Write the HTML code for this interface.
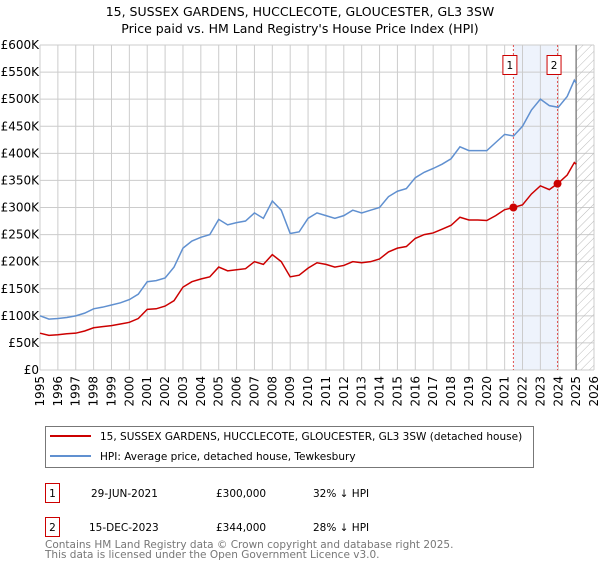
<!DOCTYPE html>
<html><head><meta charset="utf-8"><style>
body{margin:0;background:#fff;font-family:"Liberation Sans","DejaVu Sans",sans-serif}
</style></head><body>
<svg width="600" height="560" xmlns="http://www.w3.org/2000/svg" font-family="DejaVu Sans, Liberation Sans, sans-serif">
<text x="300" y="16" text-anchor="middle" font-size="12.5">15, SUSSEX GARDENS, HUCCLECOTE, GLOUCESTER, GL3 3SW</text>
<text x="300" y="33" text-anchor="middle" font-size="12.5">Price paid vs. HM Land Registry's House Price Index (HPI)</text>
<defs><pattern id="hatch" width="6" height="6" patternUnits="userSpaceOnUse" patternTransform="rotate(45)"><line x1="0" y1="0" x2="0" y2="6" stroke="#bbb" stroke-width="1"/></pattern></defs>
<g id="grid"></g>
<g id="marks"></g>
<g id="axes" font-size="12"></g>
<g>
<rect x="45.5" y="426.5" width="488" height="41" fill="#fff" stroke="#777"/>
<line x1="50" y1="436" x2="91" y2="436" stroke="#cc0000" stroke-width="2"/>
<text x="100" y="440" font-size="10.5">15, SUSSEX GARDENS, HUCCLECOTE, GLOUCESTER, GL3 3SW (detached house)</text>
<line x1="50" y1="456" x2="91" y2="456" stroke="#6090d0" stroke-width="2"/>
<text x="100" y="460" font-size="10.5">HPI: Average price, detached house, Tewkesbury</text>
</g>
<g font-size="10.5">
<rect x="45.5" y="483.5" width="14" height="19" fill="#fff" stroke="#cc0000"/><text x="52.5" y="497" text-anchor="middle">1</text>
<text x="91" y="497">29-JUN-2021</text><text x="216" y="497">£300,000</text><text x="313" y="497">32% ↓ HPI</text>
<rect x="45.5" y="517.5" width="14" height="19" fill="#fff" stroke="#cc0000"/><text x="52.5" y="531" text-anchor="middle">2</text>
<text x="89" y="531">15-DEC-2023</text><text x="216" y="531">£344,000</text><text x="313" y="531">28% ↓ HPI</text>
</g>
<text x="45" y="548" font-size="10.5" fill="#777">Contains HM Land Registry data © Crown copyright and database right 2025.</text>
<text x="45" y="558" font-size="10.5" fill="#777">This data is licensed under the Open Government Licence v3.0.</text>
</svg>
<script>
const years=[1995,1995.5,1996,1996.5,1997,1997.5,1998,1998.5,1999,1999.5,2000,2000.5,2001,2001.5,2002,2002.5,2003,2003.5,2004,2004.5,2005,2005.5,2006,2006.5,2007,2007.5,2008,2008.5,2009,2009.5,2010,2010.5,2011,2011.5,2012,2012.5,2013,2013.5,2014,2014.5,2015,2015.5,2016,2016.5,2017,2017.5,2018,2018.5,2019,2019.5,2020,2020.5,2021,2021.5,2022,2022.5,2023,2023.5,2024,2024.5,2024.9,2025];
const hpi=[100,94,95,97,100,105,113,116,120,124,130,140,163,165,170,190,225,238,245,250,278,268,272,275,290,280,312,295,252,255,280,290,285,280,285,295,290,295,300,320,330,335,355,365,372,380,390,412,405,405,405,420,435,432,450,480,500,488,485,505,535,530];
const price=[68,64,65,67,68,72,78,80,82,85,88,95,112,113,118,128,153,163,168,172,190,183,185,187,200,195,213,200,172,175,188,198,195,190,193,200,198,200,205,218,225,228,243,250,253,260,267,282,277,277,276,285,296,300,305,325,340,333,345,360,383,380];
const yTicks=[0,50,100,150,200,250,300,350,400,450,500,550,600];
const yTickLabels=["£0","£50K","£100K","£150K","£200K","£250K","£300K","£350K","£400K","£450K","£500K","£550K","£600K"];
const xTicks=[1995,1996,1997,1998,1999,2000,2001,2002,2003,2004,2005,2006,2007,2008,2009,2010,2011,2012,2013,2014,2015,2016,2017,2018,2019,2020,2021,2022,2023,2024,2025,2026];
const sales=[{n:"1",t:2021.49,v:300},{n:"2",t:2023.96,v:344}];
const X0=40,X1=594,Y0=370,Y1=45;
const x=t=>X0+(t-1995)/(2026-1995)*(X1-X0);
const y=v=>Y0-v/600*(Y0-Y1);
const NS="http://www.w3.org/2000/svg";
function mk(tag,attrs,parent){const e=document.createElementNS(NS,tag);for(const k in attrs)e.setAttribute(k,attrs[k]);parent.appendChild(e);return e;}
const grid=document.getElementById('grid'),marks=document.getElementById('marks'),axes=document.getElementById('axes');
let sh=mk('rect',{x:x(sales[0].t),y:Y1,width:x(sales[1].t)-x(sales[0].t),height:Y0-Y1,fill:'#eef3fc'},grid);


yTicks.forEach((v,i)=>{
  mk('line',{x1:X0,x2:X1,y1:y(v),y2:y(v),stroke:'#ccc'},grid);
  const t=mk('text',{x:X0-1,y:y(v)+4,'text-anchor':'end'},axes);t.textContent=yTickLabels[i];
  
  
});
xTicks.forEach(yr=>{
  mk('line',{x1:x(yr),x2:x(yr),y1:Y1,y2:Y0,stroke:'#ccc'},grid);
  const t=mk('text',{x:0,y:0,transform:`translate(${x(yr)+4},${Y0+6}) rotate(-90)`,'text-anchor':'end'},axes);t.textContent=yr;
  
  
});
const hx=mk('rect',{x:x(2025),y:Y1,width:X1-x(2025),height:Y0-Y1,fill:'url(#hatch)'},grid);


mk('line',{x1:x(2025),x2:x(2025),y1:Y1,y2:Y0,stroke:'#888','stroke-width':1.5},grid);
mk('line',{x1:X0,x2:X0,y1:Y1,y2:Y0,stroke:'#ccc'},grid);
sales.forEach(s=>{
  mk('line',{x1:x(s.t),x2:x(s.t),y1:Y1,y2:Y0,stroke:'#e05050','stroke-dasharray':'2,2'},marks);
  const b=mk('rect',{x:x(s.t)-10.5,y:55.5,width:14,height:19,fill:'#fff',stroke:'#cc0000'},marks);
  
  
  const t=mk('text',{x:x(s.t)-3.5,y:69,'text-anchor':'middle','font-size':10.5},marks);t.textContent=s.n;
});
const p1=mk('polyline',{points:years.map((t,i)=>x(t)+','+y(hpi[i])).join(' '),fill:'none',stroke:'#6090d0','stroke-width':1.5},marks);


const p2=mk('polyline',{points:years.map((t,i)=>x(t)+','+y(price[i])).join(' '),fill:'none',stroke:'#cc0000','stroke-width':1.5},marks);


sales.forEach(s=>{
  const c=mk('circle',{cx:x(s.t),cy:y(s.v),r:4,fill:'#cc0000'},marks);
  
  
});
</script>
</body></html>
